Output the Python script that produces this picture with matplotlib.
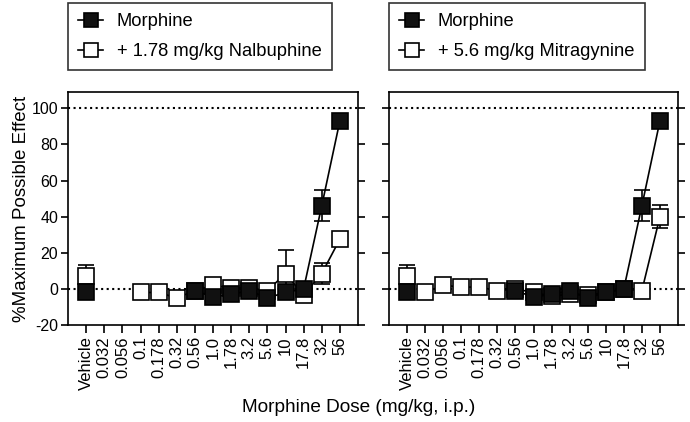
import numpy as np
import matplotlib.pyplot as plt
from matplotlib.lines import Line2D

plt.rcParams['font.family'] = ['Liberation Sans', 'DejaVu Sans']
plt.rcParams['axes.unicode_minus'] = False

# dose categories (x axis)
doses = ['Vehicle', '0.032', '0.056', '0.1', '0.178', '0.32', '0.56', '1.0',
         '1.78', '3.2', '5.6', '10', '17.8', '32', '56']

nan = np.nan
# morphine alone (same in both panels)
morph_mean = [-1.5, nan, nan, nan, nan, nan, -1, -4.5, -3, -1, -5, -2, 0, 46, 93]
morph_sem = [2, nan, nan, nan, nan, nan, 2, 2, 2, 2, 2, 2, 2, 8.5, 2]

# morphine + 1.78 mg/kg nalbuphine
nalb_mean = [7, nan, nan, -2, -2, -5, -1, 2, 0.5, 0.5, -1, 8.5, -3.5, 8.5, 27.5]
nalb_sem = [6, nan, nan, 2, 2, 2, 2, 2, 2, 2, 2, 13, 2, 6, 4]

# morphine + 5.6 mg/kg mitragynine
mitr_mean = [7, -2, 2, 1, 1, -1, 0, -2, -4, -3, -3.5, -2, 0, -1, 40]
mitr_sem = [6, 2, 2, 2, 2, 2, 2, 2, 2, 2, 2, 2, 2, 2, 6.5]

legend_labels = [['Morphine', '+ 1.78 mg/kg Nalbuphine'],
                 ['Morphine', '+ 5.6 mg/kg Mitragynine']]

W, H = 690, 422
fig = plt.figure(figsize=(W / 100, H / 100), dpi=100)


def px_axes(x0, x1, y0, y1):
    return fig.add_axes([x0 / W, 1 - y1 / H, (x1 - x0) / W, (y1 - y0) / H])


def draw_series(ax, mean, sem, face, z):
    x = np.arange(len(doses))
    mean = np.array(mean, dtype=float)
    sem = np.array(sem, dtype=float)
    # vehicle point is not connected to the curve
    ax.errorbar(x[:1], mean[:1], yerr=sem[:1], fmt='s', ms=11, mfc=face,
                mec='black', mew=1.2, ecolor='black', elinewidth=1.2,
                capsize=6, capthick=1.2, zorder=z)
    ok = ~np.isnan(mean)
    ok[0] = False
    ax.errorbar(x[ok], mean[ok], yerr=sem[ok], fmt='s-', ms=11, mfc=face,
                mec='black', mew=1.2, color='black', lw=1.2, ecolor='black',
                elinewidth=1.2, capsize=6, capthick=1.2, zorder=z)


panels = [(68, 358, nalb_mean, nalb_sem), (389, 678, mitr_mean, mitr_sem)]
axes = []
for i, (x0, x1, m2, s2) in enumerate(panels):
    ax = px_axes(x0, x1, 92, 325)
    axes.append(ax)
    ax.axhline(100, color='black', ls=':', lw=1.5, zorder=1)
    ax.axhline(0, color='black', ls=':', lw=1.5, zorder=1)
    draw_series(ax, m2, s2, 'white', 3)
    draw_series(ax, morph_mean, morph_sem, '#111111', 4)
    ax.set_xlim(-1, len(doses))
    ax.set_ylim(-20, 109)
    ax.set_yticks(np.arange(-20, 101, 20))
    ax.set_xticks(np.arange(len(doses)))
    ax.set_xticklabels(doses, rotation=90, fontsize=12)
    ax.tick_params(axis='y', which='both', left=True, right=True,
                   direction='out', length=5, width=1.2, labelsize=11.5, pad=2)
    ax.tick_params(axis='x', direction='out', length=6, width=1.2, pad=2)
    for s in ax.spines.values():
        s.set_linewidth(1.2)
    if i == 1:
        ax.set_yticklabels([])
    else:
        ax.set_ylabel('%Maximum Possible Effect', fontsize=13.5, labelpad=1)

    handles = [Line2D([], [], color='black', lw=1.2, marker='s', ms=10,
                      mfc='#111111', mec='black', mew=1.2),
               Line2D([], [], color='black', lw=1.2, marker='s', ms=10,
                      mfc='white', mec='black', mew=1.2)]
    leg = fig.legend(handles, legend_labels[i], loc='upper left',
                     bbox_to_anchor=(x0 / W, 1 - 3 / H), borderaxespad=0,
                     fontsize=13.25, frameon=True, fancybox=False,
                     edgecolor='black', handlelength=1.36, handletextpad=0.75,
                     borderpad=0.55, labelspacing=0.72)
    leg.get_frame().set_linewidth(1.2)

fig.text(359 / W, 1 - 408 / H, 'Morphine Dose (mg/kg, i.p.)',
         ha='center', va='center', fontsize=13.7)

fig.savefig('out.png', dpi=100)
